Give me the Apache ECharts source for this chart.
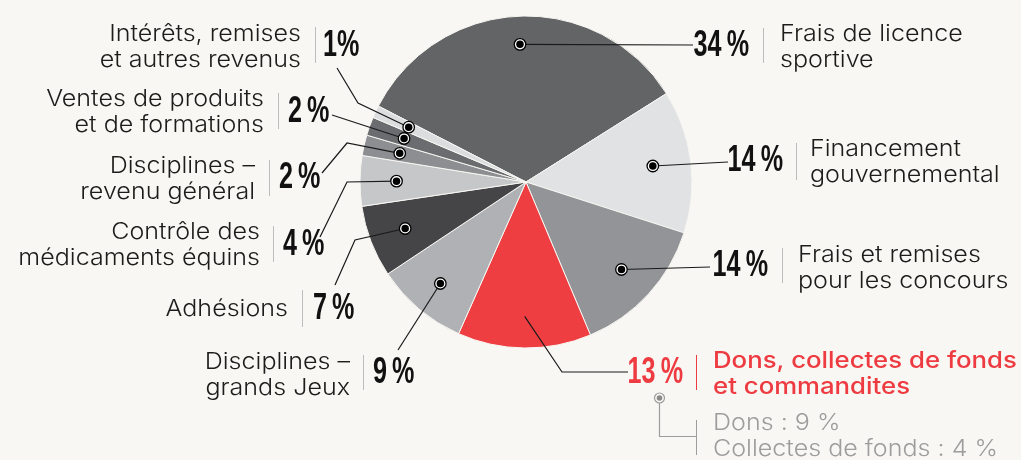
<!DOCTYPE html>
<html>
<head>
<meta charset="utf-8">
<script src="https://cdn.jsdelivr.net/npm/echarts@6/dist/echarts.min.js"></script>
<style>
html,body{margin:0;padding:0;background:#f8f7f3;}
#c{width:1021px;height:460px;}
</style>
</head>
<body>
<div id="c"></div>
<script>
// ---------------- DATA ----------------
const categories = [
  'Frais de licence\nsportive',
  'Financement\ngouvernemental',
  'Frais et remises\npour les concours',
  'Dons, collectes de fonds\net commandites',
  'Disciplines –\ngrands Jeux',
  'Adhésions',
  'Contrôle des\nmédicaments équins',
  'Disciplines –\nrevenu général',
  'Ventes de produits\net de formations',
  'Intérêts, remises\net autres revenus'
];
// slice sizes (percent of revenue)
const sliceValues = [33.5, 13.9, 13.7, 13.0, 9.0, 7.0, 4.9, 2.0, 1.8, 1.2];
// percentages as printed
const shownPercents = ['34\u2009%', '14\u2009%', '14\u2009%', '13\u2009%', '9\u2009%', '7\u2009%', '4\u2009%', '2\u2009%', '2\u2009%', '1%'];
const subCategories = ['Dons', 'Collectes de fonds'];
const subValues = [9, 4];

// ---------------- STYLE / LAYOUT ----------------
const sliceColors = ['#636466', '#e1e2e4', '#939497', '#ef3e42', '#b0b1b4', '#454547', '#c6c7c9', '#8d8e91', '#6b6c6f', '#dcdddf'];
const BG = '#f8f7f3';
const RED = '#ee3b41';
const CX = 526, CY = 182, R = 166, PIE_START = 152.8;
const TEXT_FONT = 'Inter, Roboto, "Liberation Sans", sans-serif';
const TEXT_SCALE = 1.09;
const PCT_FONT = '"Liberation Sans", Arial, sans-serif';
const PCT_SCALE = 0.68;

const labelLayout = [
  {side:'right', pct:[749,46], sep:763, sepY:[28,63], text:[780,47], path:[[693,45]], r:0.83},
  {side:'right', pct:[783,161], sep:796, sepY:[143,180], text:[810,162], path:[[728,162]], r:0.77},
  {side:'right', pct:[768,266], sep:782, sepY:[248,283], text:[798,268], path:[[710,267]], r:0.78},
  {side:'right', pct:[683,373], sep:696, sepY:[355,390], text:[713,374], path:[[628,372],[562,372]], r:0.81, noMarker:true, red:true},
  {side:'left', pct:[373,373], sep:363, sepY:[355,390], text:[350,375], path:[[398,350]], r:0.80},
  {side:'left', pct:[313,309], sep:302, sepY:[290,327], text:[288,309], path:[[335,285],[355,240]], r:0.78},
  {side:'left', pct:[283,245], sep:273, sepY:[226,262], text:[260,245], path:[[320,237],[347,182]], r:0.78},
  {side:'left', pct:[279,178], sep:269, sepY:[160,196], text:[255,179], path:[[322,173],[347,143]], r:0.78},
  {side:'left', pct:[288,112], sep:278, sepY:[93,129], text:[264,112], path:[[332,115]], r:0.78},
  {side:'left', pct:[323,46], sep:315, sepY:[27,63], text:[301,47], path:[[337,68],[358,103]], r:0.78}
];

// ---------------- CHART ----------------
const chart = echarts.init(document.getElementById('c'), null, {renderer:'canvas'});
const total = sliceValues.reduce((a, b) => a + b, 0);
let cum = 0;
const midAngles = sliceValues.map(v => {
  const m = (90 - PIE_START) + (cum + v / 2) / total * 360;
  cum += v;
  return ((m % 360) + 360) % 360;
});
const markerData = [];
labelLayout.forEach((L, i) => { if (!L.noMarker) markerData.push([L.r, midAngles[i]]); });

chart.setOption({
  backgroundColor: BG,
  animation: false,
  polar: {center: [CX, CY], radius: R},
  angleAxis: {type:'value', min:0, max:360, startAngle:90, clockwise:true, show:false,
              axisLine:{show:false}, axisTick:{show:false}, axisLabel:{show:false}, splitLine:{show:false}},
  radiusAxis: {type:'value', min:0, max:1, show:false,
              axisLine:{show:false}, axisTick:{show:false}, axisLabel:{show:false}, splitLine:{show:false}},
  series: [
    {
      type:'pie', center:[CX, CY], radius:[0, R], startAngle: PIE_START, clockwise:true,
      silent:true, label:{show:false}, labelLine:{show:false},
      itemStyle:{borderColor: BG, borderWidth: 1},
      data: categories.map((c, i) => ({name:c, value:sliceValues[i], itemStyle:{color:sliceColors[i]}}))
    },
    {
      type:'scatter', coordinateSystem:'polar', symbol:'circle', symbolSize:11.5, silent:true, z:20,
      itemStyle:{color:'#ffffff', borderColor:'#000', borderWidth:1.3, opacity:1},
      data: markerData
    },
    {
      type:'scatter', coordinateSystem:'polar', symbol:'circle', symbolSize:7.5, silent:true, z:21,
      itemStyle:{color:'#000', opacity:1},
      data: markerData
    }
  ]
});

// ---------------- ANNOTATIONS ----------------
const els = [];
labelLayout.forEach((L, i) => {
  const mp = chart.convertToPixel({seriesIndex:1}, [L.r, midAngles[i]]);
  const pts = L.path.map(p => [p[0], p[1]]).concat([mp]);
  els.push({type:'polyline', z:10, silent:true, shape:{points:pts}, style:{stroke:'#1a1a1a', lineWidth:1.2, fill:null}});
  const col = L.red ? RED : '#111';
  const sepCol = L.red ? RED : '#bcbcbc';
  els.push({type:'line', z:10, silent:true, shape:{x1:L.sep + 0.5, y1:L.sepY[0], x2:L.sep + 0.5, y2:L.sepY[1]}, style:{stroke:sepCol, lineWidth:1}});
  els.push({type:'text', z:10, silent:true, x:L.pct[0], y:L.pct[1], scaleX:PCT_SCALE, style:{
    text: shownPercents[i], fill: col, fontFamily: PCT_FONT, fontWeight:'bold', fontSize:37,
    align: L.side === 'right' ? 'right' : 'left', verticalAlign:'middle'}});
  els.push({type:'text', z:10, silent:true, x:L.text[0], y:L.text[1], scaleX: L.red ? TEXT_SCALE + 0.03 : TEXT_SCALE, style:{
    text: categories[i], fill: L.red ? RED : '#1c1c1a', fontFamily: TEXT_FONT, fontWeight: L.red ? 500 : 300, fontSize:23, lineHeight:26,
    align: L.side === 'right' ? 'left' : 'right', verticalAlign:'middle'}});
});
// sub-breakdown of donations
const GRAY = '#9d9d9d';
els.push({type:'polyline', z:10, silent:true, shape:{points:[[659.5,403],[659.5,436.5],[696,436.5]]}, style:{stroke:GRAY, lineWidth:1.2, fill:null}});
els.push({type:'circle', z:11, silent:true, shape:{cx:659.5, cy:398, r:5}, style:{fill:BG, stroke:GRAY, lineWidth:1.2}});
els.push({type:'circle', z:12, silent:true, shape:{cx:659.5, cy:398, r:2.8}, style:{fill:'#8a8a8a'}});
els.push({type:'line', z:10, silent:true, shape:{x1:696.5, y1:420, x2:696.5, y2:455}, style:{stroke:GRAY, lineWidth:1}});
els.push({type:'text', z:10, silent:true, x:713, y:436, scaleX:TEXT_SCALE, style:{
  text: subCategories.map((s, i) => s + '\u00a0: ' + subValues[i] + '\u00a0%').join('\n'),
  fill: GRAY, fontFamily: TEXT_FONT, fontWeight:300, fontSize:23, lineHeight:26, align:'left', verticalAlign:'middle'}});

chart.setOption({graphic: {elements: els}});
</script>
</body>
</html>
